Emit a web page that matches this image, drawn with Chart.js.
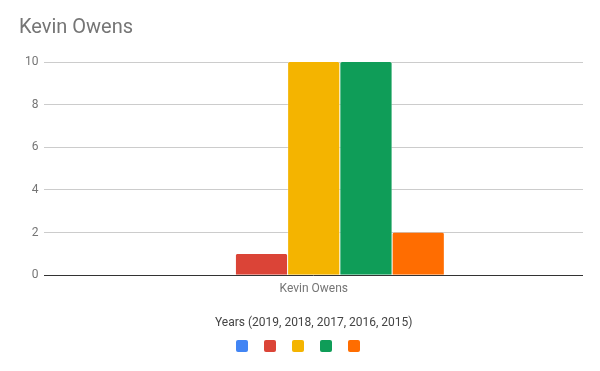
<!DOCTYPE html>
<html>
<head>
<meta charset="utf-8">
<script src="https://cdn.jsdelivr.net/npm/chart.js@4/dist/chart.umd.min.js"></script>
<style>
  html, body { margin: 0; padding: 0; background: #fff; }
  #wrap { width: 600px; height: 371px; }
</style>
</head>
<body>
<div id="wrap"><canvas id="chart"></canvas></div>
<script>
const categories = ["Kevin Owens"];
const seriesNames = ["2019", "2018", "2017", "2016", "2015"];
const seriesValues = [[0], [1], [10], [10], [2]];
const seriesColors = ["#4285F4", "#DB4437", "#F4B400", "#0F9D58", "#FF6D01"];
const yTicks = [0, 2, 4, 6, 8, 10];

const textColor = "#757575";
const gridColor = "#cccccc";

document.addEventListener("DOMContentLoaded", () => {
  const ctx = document.getElementById("chart");

  new Chart(ctx, {
    type: "bar",
    data: {
      labels: categories,
      datasets: seriesNames.map((name, i) => ({
        label: name,
        data: seriesValues[i],
        backgroundColor: seriesColors[i],
        borderColor: "#ffffff",
        borderWidth: { left: 0.5, right: 0.5, top: 0, bottom: 0 },
        borderRadius: { topLeft: 2, topRight: 2 },
        borderSkipped: false,
        categoryPercentage: 0.485,
        barPercentage: 1
      }))
    },
    options: {
      responsive: true,
      maintainAspectRatio: false,
      animation: false,
      layout: {
        padding: { left: 19, right: 17, top: 16, bottom: 9 }
      },
      plugins: {
        title: {
          display: true,
          text: "Kevin Owens",
          align: "start",
          color: textColor,
          font: { family: "Roboto", size: 20, weight: "normal" },
          padding: { top: 0, bottom: 22 }
        },
        legend: {
          position: "bottom",
          labels: {
            boxWidth: 12,
            boxHeight: 12,
            padding: 10,
            font: { family: "Roboto", size: 12 },
            generateLabels: (chart) =>
              chart.data.datasets.map((ds, i) => ({
                text: "",
                fillStyle: ds.backgroundColor,
                strokeStyle: ds.backgroundColor,
                lineWidth: 0,
                borderRadius: 2,
                datasetIndex: i,
                hidden: !chart.isDatasetVisible(i)
              })),
            useBorderRadius: true,
            borderRadius: 2
          }
        },
        tooltip: { enabled: false }
      },
      scales: {
        x: {
          grid: { display: false },
          border: { display: false },
          ticks: {
            color: textColor,
            font: { family: "Roboto", size: 12 },
            padding: -1
          },
          title: {
            display: true,
            text: "Years (2019, 2018, 2017, 2016, 2015)",
            color: "#444444",
            font: { family: "Roboto", size: 12 },
            padding: { top: 20, bottom: 0 }
          }
        },
        y: {
          min: 0,
          max: 10,
          afterBuildTicks: (axis) => {
            axis.ticks = yTicks.map((v) => ({ value: v }));
          },
          border: { display: false },
          grid: {
            drawTicks: false,
            color: (c) => (c.tick && c.tick.value === 0 ? "#333333" : gridColor),
            lineWidth: 1
          },
          ticks: {
            color: textColor,
            font: { family: "Roboto", size: 12 },
            padding: 6
          }
        }
      }
    }
  });
});
</script>
</body>
</html>
